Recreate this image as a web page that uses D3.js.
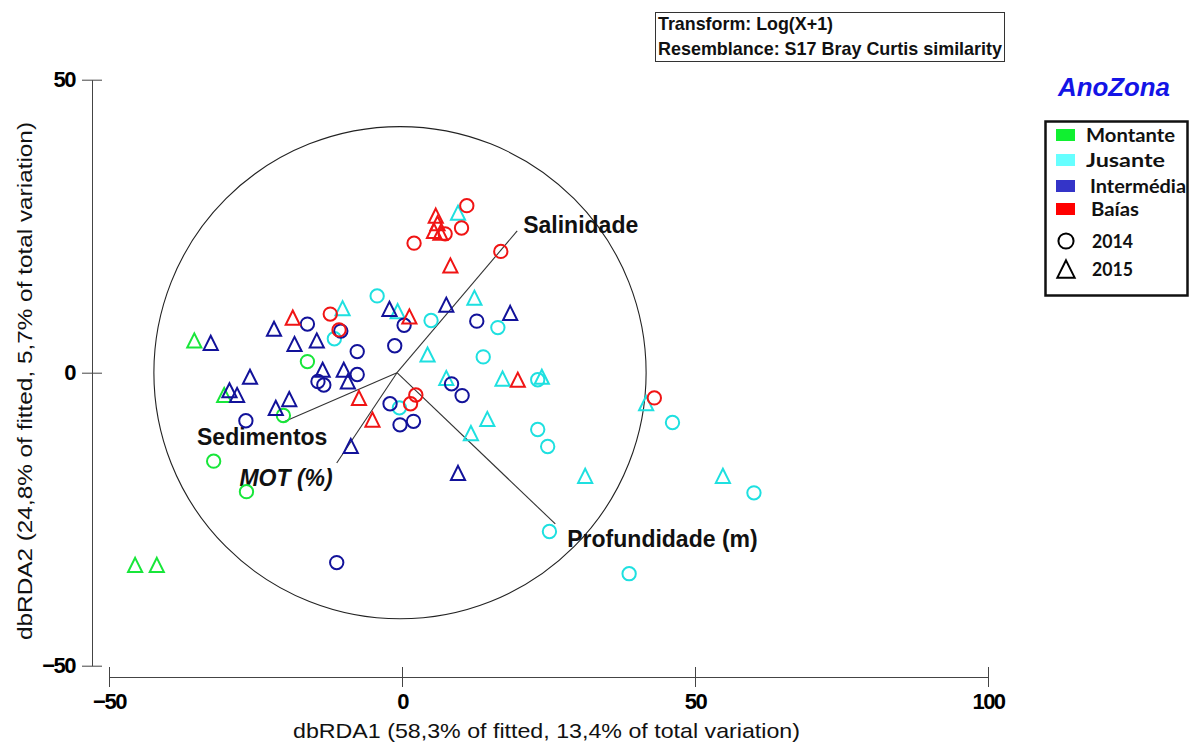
<!DOCTYPE html>
<html>
<head>
<meta charset="utf-8">
<script src="https://cdn.jsdelivr.net/npm/d3@7"></script>
<style>
  body { margin: 0; background: #fff; }
  svg { display: block; }
</style>
</head>
<body>
<svg id="chart" width="1190" height="744"></svg>
<script>
// dbRDA sample scores [dbRDA1, dbRDA2], one array per zone and year
const montante2014 = [[-15.8,1.9],[-19.9,-7.3],[-31.8,-15.1],[-26.2,-20.3]];
const montante2015 = [[-35.1,5.5],[-30.0,-3.8],[-45.2,-32.8],[-41.5,-32.8]];
const jusante2014 = [[-3.9,13.1],[-11.2,5.8],[5.3,8.9],[16.7,7.7],[14.2,2.7],[23.5,-1.2],[-0.1,-6.0],
                     [23.5,-9.7],[25.2,-12.6],[46.5,-8.5],[60.4,-20.5],[25.5,-27.1],[39.1,-34.3]];
const jusante2015 = [[9.9,27.3],[-9.8,11.0],[-0.4,10.5],[12.7,12.8],[4.7,3.1],[7.9,-0.9],[17.5,-1.0],
                     [24.2,-0.7],[42.0,-5.2],[14.9,-7.9],[12.1,-10.3],[31.6,-17.6],[55.1,-17.6]];
const intermedia2014 = [[-15.8,8.3],[-10.1,7.1],[-7.3,3.6],[-0.9,4.6],[0.7,8.1],[13.1,8.8],[-7.3,-0.3],
                        [-14.0,-1.5],[-13.0,-2.1],[8.8,-1.9],[10.6,-3.9],[-1.7,-5.3],[0.0,-8.9],[2.3,-8.3],
                        [-26.3,-8.2],[-10.8,-32.4]];
const intermedia2015 = [[-32.3,5.1],[-21.5,7.5],[-18.0,4.9],[-25.6,-0.7],[-29.1,-3.0],[-27.8,-3.8],
                        [-18.9,-4.5],[-21.2,-6.0],[-14.2,5.5],[-13.2,0.5],[-9.6,0.5],[-8.9,-1.5],
                        [-1.8,10.9],[7.9,11.6],[18.8,10.2],[-8.4,-12.5],[9.9,-17.1]];
const baias2014 = [[-11.9,10.0],[-10.4,7.3],[11.4,28.5],[7.7,23.7],[10.5,24.7],[2.4,22.1],[17.2,20.7],
                   [2.7,-3.8],[1.8,-5.3],[43.4,-4.3]];
const baias2015 = [[-18.3,9.4],[1.6,9.6],[6.1,26.8],[6.4,25.5],[5.8,24.2],[6.9,23.9],[8.6,18.3],
                   [20.1,-1.2],[-7.0,-4.3],[-4.7,-8.0]];

// Predictor vectors (end points of the correlation vectors)
const vectorNames = ["Salinidade", "Profundidade (m)", "Sedimentos", "MOT (%)"];
const vectorX = [20.0, 26.5, -20.1, -10.8];
const vectorY = [24.2, -25.8, -8.5, -15.4];
const circleRadius = 42;

// Legend / axis text
const zoneNames = ["Montante", "Jusante", "Intermédia", "Baías"];
const yearNames = ["2014", "2015"];
const xTicks = [-50, 0, 50, 100];
const yTicks = [-50, 0, 50];
const xTitle = "dbRDA1 (58,3% of fitted, 13,4% of total variation)";
const yTitle = "dbRDA2 (24,8% of fitted, 5,7% of total variation)";
const noteLines = ["Transform: Log(X+1)", "Resemblance: S17 Bray Curtis similarity"];
const legendTitle = "AnoZona";

const svg = d3.select("#chart");
svg.append("rect").attr("width", 1190).attr("height", 744).attr("fill", "#fff");

const x = d3.scaleLinear().domain([-50, 100]).range([107, 986]);
const y = d3.scaleLinear().domain([-50, 50]).range([665.7, 79.7]);

const markerColor = ["#18e63a", "#1ee0e0", "#12129a", "#f01414"];
const swatchColor = ["#10f030", "#66ffff", "#3434c8", "#ff0000"];

const narrow = "'Liberation Sans Narrow', 'Arial Narrow', 'Liberation Sans', Arial, sans-serif";
const sans = "'Liberation Sans', Arial, sans-serif";

// ---- axes ----
const yAxis = svg.append("g")
  .attr("transform", "translate(92,0)")
  .call(d3.axisLeft(y).tickValues(yTicks).tickSize(10).tickSizeOuter(0).tickPadding(7));
yAxis.selectAll(".tick line").attr("x1", 10);
yAxis.selectAll("path, line").attr("stroke", "#444");
yAxis.selectAll("text").attr("font-family", sans).attr("font-weight", "bold")
  .attr("font-size", 22).attr("letter-spacing", -1.5).attr("fill", "#000");

const xAxis = svg.append("g")
  .attr("transform", "translate(2,677)")
  .call(d3.axisBottom(x).tickValues(xTicks).tickSize(10).tickSizeOuter(0).tickPadding(6));
xAxis.selectAll(".tick line").attr("y1", -10);
xAxis.selectAll("path, line").attr("stroke", "#444");
xAxis.selectAll("text").attr("font-family", sans).attr("font-weight", "bold")
  .attr("font-size", 22).attr("letter-spacing", -1.5).attr("fill", "#000");

svg.append("text")
  .attr("x", 293).attr("y", 738)
  .attr("textLength", 507).attr("lengthAdjust", "spacingAndGlyphs")
  .attr("font-family", narrow).attr("font-size", 21).attr("fill", "#111")
  .text(xTitle);

svg.append("text")
  .attr("transform", "translate(32,640) rotate(-90)")
  .attr("textLength", 518).attr("lengthAdjust", "spacingAndGlyphs")
  .attr("font-family", narrow).attr("font-size", 21).attr("fill", "#111")
  .text(yTitle);

// ---- correlation circle and vectors ----
const x0 = x(0), y0 = y(0);
svg.append("circle")
  .attr("cx", x0).attr("cy", y0)
  .attr("r", x(circleRadius) - x0)
  .attr("fill", "none").attr("stroke", "#222").attr("stroke-width", 1.1);

svg.append("g").selectAll("line")
  .data(vectorNames)
  .join("line")
  .attr("x1", x0 - 3).attr("y1", y0)
  .attr("x2", (d, i) => x(vectorX[i]))
  .attr("y2", (d, i) => y(vectorY[i]))
  .attr("stroke", "#333").attr("stroke-width", 1.1);

// label placement around each vector tip
const labelDx = [6, 12, -20, -4];
const labelDy = [2, 23, 22, 23];
const labelAnchor = ["start", "start", "middle", "end"];
svg.append("g").selectAll("text")
  .data(vectorNames)
  .join("text")
  .attr("x", (d, i) => x(vectorX[i]) + labelDx[i])
  .attr("y", (d, i) => y(vectorY[i]) + labelDy[i])
  .attr("text-anchor", (d, i) => labelAnchor[i])
  .attr("font-family", sans).attr("font-weight", "bold")
  .attr("font-style", (d, i) => i === 3 ? "italic" : "normal")
  .attr("font-size", 23).attr("fill", "#111")
  .text(d => d);

// ---- samples ----
const triangle = {
  draw(ctx, size) {
    const r = Math.sqrt(size) / 2;
    ctx.moveTo(0, -r);
    ctx.lineTo(r, r);
    ctx.lineTo(-r, r);
    ctx.closePath();
  }
};
const circleSym = d3.symbol().type(d3.symbolCircle).size(140);
const triSym = d3.symbol().type(triangle).size(200);

const groups = [
  {zone: 0, year: 0, pts: montante2014}, {zone: 0, year: 1, pts: montante2015},
  {zone: 1, year: 0, pts: jusante2014},  {zone: 1, year: 1, pts: jusante2015},
  {zone: 2, year: 0, pts: intermedia2014}, {zone: 2, year: 1, pts: intermedia2015},
  {zone: 3, year: 0, pts: baias2014},    {zone: 3, year: 1, pts: baias2015}
];

const markers = svg.append("g");
groups.forEach(g => {
  markers.append("g").selectAll("path")
    .data(g.pts)
    .join("path")
    .attr("transform", d => `translate(${x(d[0])},${y(d[1])})`)
    .attr("d", g.year === 0 ? circleSym : triSym)
    .attr("fill", "none")
    .attr("stroke", markerColor[g.zone])
    .attr("stroke-width", 2);
});

// ---- note box ----
svg.append("rect").attr("x", 655.5).attr("y", 12.5).attr("width", 349).attr("height", 49)
  .attr("fill", "#fff").attr("stroke", "#333").attr("stroke-width", 1);
svg.selectAll(".note")
  .data(noteLines)
  .join("text")
  .attr("class", "note")
  .attr("x", 658).attr("y", (d, i) => 30 + i * 25)
  .attr("textLength", (d, i) => i === 0 ? 175 : 344)
  .attr("lengthAdjust", "spacingAndGlyphs")
  .attr("font-family", narrow).attr("font-weight", "bold").attr("font-size", 19).attr("fill", "#111")
  .text(d => d);

// ---- legend ----
svg.append("text")
  .attr("x", 1058).attr("y", 96)
  .attr("textLength", 112).attr("lengthAdjust", "spacingAndGlyphs")
  .attr("font-family", sans).attr("font-style", "italic").attr("font-weight", "bold").attr("font-size", 25)
  .attr("fill", "#1414e6")
  .text(legendTitle);

svg.append("rect").attr("x", 1045.5).attr("y", 121.5).attr("width", 142).attr("height", 174)
  .attr("fill", "#fff").attr("stroke", "#111").attr("stroke-width", 2.5);

const legFont = "Lato, 'Open Sans', sans-serif";
const rowY = [135, 160, 186, 209];
const textX = [1086, 1086, 1090, 1091];
const textLen = [89, 79, 96, 48];
const leg = svg.append("g");
leg.selectAll("rect")
  .data(zoneNames)
  .join("rect")
  .attr("x", 1056).attr("y", (d, i) => rowY[i] - 6)
  .attr("width", 19).attr("height", 12)
  .attr("fill", (d, i) => swatchColor[i]);
leg.selectAll("text.zone")
  .data(zoneNames)
  .join("text")
  .attr("class", "zone")
  .attr("x", (d, i) => textX[i]).attr("y", (d, i) => rowY[i] + 7)
  .attr("textLength", (d, i) => textLen[i]).attr("lengthAdjust", "spacingAndGlyphs")
  .attr("font-family", legFont).attr("font-weight", "bold").attr("font-size", 19).attr("fill", "#111")
  .text(d => d);

const yearY = [241, 269];
leg.selectAll("path")
  .data(yearNames)
  .join("path")
  .attr("transform", (d, i) => `translate(1066,${yearY[i]})`)
  .attr("d", (d, i) => i === 0 ? d3.symbol().type(d3.symbolCircle).size(180)() : d3.symbol().type(triangle).size(300)())
  .attr("fill", "none").attr("stroke", "#000").attr("stroke-width", 2);
leg.selectAll("text.year")
  .data(yearNames)
  .join("text")
  .attr("class", "year")
  .attr("x", 1092).attr("y", (d, i) => yearY[i] + 7)
  .attr("textLength", 41).attr("lengthAdjust", "spacingAndGlyphs")
  .attr("font-family", legFont).attr("font-weight", "bold").attr("font-size", 19).attr("fill", "#111")
  .text(d => d);
</script>
</body>
</html>
